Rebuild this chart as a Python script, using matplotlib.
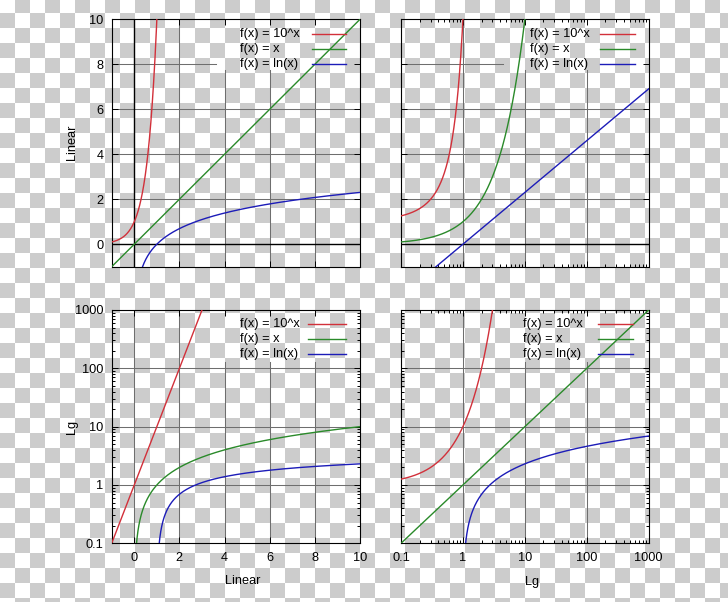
import matplotlib
matplotlib.use('Agg')
import matplotlib.pyplot as plt
import numpy as np
from matplotlib.ticker import FixedLocator, NullFormatter, LogLocator

plt.rcParams['font.family'] = ['Liberation Sans', 'DejaVu Sans']

# legend text and curve colours
labels = ['f(x) = 10^x', 'f(x) = x', 'f(x) = ln(x)']
colors = ['#d2303a', '#2a8a2a', '#1c1cb8']

# tick values of the two axis kinds
lin_ticks = [0, 2, 4, 6, 8, 10]
log_ticks = [0.1, 1, 10, 100, 1000]
log_tick_labels = ['0.1', '1', '10', '100', '1000']
lin_grid = [2, 4, 6, 8]
log_grid = [1, 10, 100]

lin_range = (-1, 10)
log_range = (0.1, 1000)


def f_values(x):
    with np.errstate(all='ignore'):
        ys = [np.power(10.0, x), x.copy(), np.log(x)]
    return ys


def draw_key(ax, text_x, line_x0, line_x1, rows):
    # gnuplot style key: left aligned text, sample line to the right
    for lab, c, ry in zip(labels, colors, rows):
        ax.text(text_x, 1 - ry, lab, transform=ax.transAxes, ha='left', va='center',
                fontsize=9.2, zorder=4)
        ax.plot([line_x0, line_x1], [1 - ry, 1 - ry], transform=ax.transAxes,
                color=c, lw=1.0, zorder=4, clip_on=False)


def draw_panel(ax, xlog, ylog, box, show_x, show_y, zero_x, zero_y):
    if xlog:
        x = np.logspace(-1, 3, 1600)
        ax.set_xscale('log')
    else:
        x = np.linspace(-1, 10, 1600)
    if ylog:
        ax.set_yscale('log')
        ymax = 1000
    else:
        ymax = 10

    for y, c, lab in zip(f_values(x), colors, labels):
        y = np.where(np.isfinite(y), y, np.nan)
        y = np.where(y > ymax * 1e4, np.nan, y)
        if ylog:
            y = np.where(y > 0, y, np.nan)
        ax.plot(x, y, color=c, lw=1.0, label=lab, zorder=3)

    ax.set_xlim(*(log_range if xlog else lin_range))
    ax.set_ylim(*(log_range if ylog else lin_range))

    # grid lines, left out under the key
    xb, yb = box
    x0, x1 = ax.get_xlim()
    y0, y1 = ax.get_ylim()
    gx = (log_grid if xlog else ([0] + lin_grid if not zero_x else lin_grid))
    gy = (log_grid if ylog else lin_grid)
    gkw = dict(color='#6e6e6e', lw=0.75, zorder=1)
    for v in gx:
        ax.plot([v, v], [y0, yb if v > xb else y1], **gkw)
    for v in gy:
        ax.plot([x0, xb if v > yb else x1], [v, v], **gkw)
    if zero_x:
        ax.plot([0, 0], [y0, y1], color='black', lw=1.0, zorder=2)
    if zero_y:
        ax.plot([x0, x1], [0, 0], color='black', lw=1.0, zorder=2)
    ax.set_xlim(x0, x1)
    ax.set_ylim(y0, y1)

    if xlog:
        ax.xaxis.set_major_locator(FixedLocator(log_ticks))
        ax.xaxis.set_minor_locator(LogLocator(base=10, subs=np.arange(2, 10)))
        ax.set_xticklabels(log_tick_labels if show_x else [''] * 5)
    else:
        ax.xaxis.set_major_locator(FixedLocator(lin_ticks))
        ax.set_xticklabels([str(t) for t in lin_ticks] if show_x else [''] * 6)
    if ylog:
        ax.yaxis.set_major_locator(FixedLocator(log_ticks))
        ax.yaxis.set_minor_locator(LogLocator(base=10, subs=np.arange(2, 10)))
        ax.set_yticklabels(log_tick_labels if show_y else [''] * 5)
    else:
        ax.yaxis.set_major_locator(FixedLocator(lin_ticks))
        ax.set_yticklabels([str(t) for t in lin_ticks] if show_y else [''] * 6)
    ax.xaxis.set_minor_formatter(NullFormatter())
    ax.yaxis.set_minor_formatter(NullFormatter())

    ax.tick_params(which='both', direction='in', top=True, right=True,
                   width=0.7, colors='black', labelsize=9.2)
    ax.tick_params(which='major', length=4.5)
    ax.tick_params(which='minor', length=2.2)
    ax.tick_params(axis='x', pad=6)
    ax.tick_params(axis='y', pad=6)
    for s in ax.spines.values():
        s.set_linewidth(0.8)
        s.set_color('black')
    ax.set_facecolor('none')


fig = plt.figure(figsize=(7.28, 6.02), dpi=100)

# transparency checkerboard behind everything
bg = fig.add_axes([0, 0, 1, 1], zorder=-10)
yy, xx = np.mgrid[0:602, 0:728]
cell = ((xx // 15) + ((yy + 2) // 15)) % 2
bg.imshow(np.where(cell == 1, 0.8, 1.0), cmap='gray', vmin=0, vmax=1,
          extent=(0, 728, 602, 0), interpolation='nearest', aspect='auto')
bg.set_axis_off()

W, H = 728.0, 602.0


def rect(l, t, r, b):
    return [l / W, (H - b) / H, (r - l) / W, (b - t) / H]


ax_tl = fig.add_axes(rect(111.7, 19.3, 360, 266.7))
ax_tr = fig.add_axes(rect(401, 19.3, 648.7, 266.7))
ax_bl = fig.add_axes(rect(111.7, 310, 360, 543.3))
ax_br = fig.add_axes(rect(401, 310, 648.7, 543.3))

draw_panel(ax_tl, False, False, (3.6, 7.75), False, True, True, True)
draw_panel(ax_tr, True, False, (4.4, 7.75), False, False, False, True)
draw_panel(ax_bl, False, True, (3.6, 128), True, True, False, False)
draw_panel(ax_br, True, True, (3.4, 128), True, False, False, False)

top_rows = [0.0606, 0.1213, 0.1819]
bot_rows = [0.0613, 0.1256, 0.1886]
draw_key(ax_tl, 0.5167, 0.807, 0.944, top_rows)
draw_key(ax_tr, 0.5208, 0.803, 0.945, top_rows)
draw_key(ax_bl, 0.5167, 0.791, 0.944, bot_rows)
draw_key(ax_br, 0.4913, 0.795, 0.937, bot_rows)

fig.text(71.7 / W, 1 - 142.5 / H, 'Linear', rotation=90, ha='center', va='center', fontsize=9.2)
fig.text(71.7 / W, 1 - 427 / H, 'Lg', rotation=90, ha='center', va='center', fontsize=9.2)
fig.text(243 / W, 1 - 581 / H, 'Linear', ha='center', va='center', fontsize=9.2)
fig.text(532 / W, 1 - 581.5 / H, 'Lg', ha='center', va='center', fontsize=9.2)

fig.savefig('out.png', dpi=100)
